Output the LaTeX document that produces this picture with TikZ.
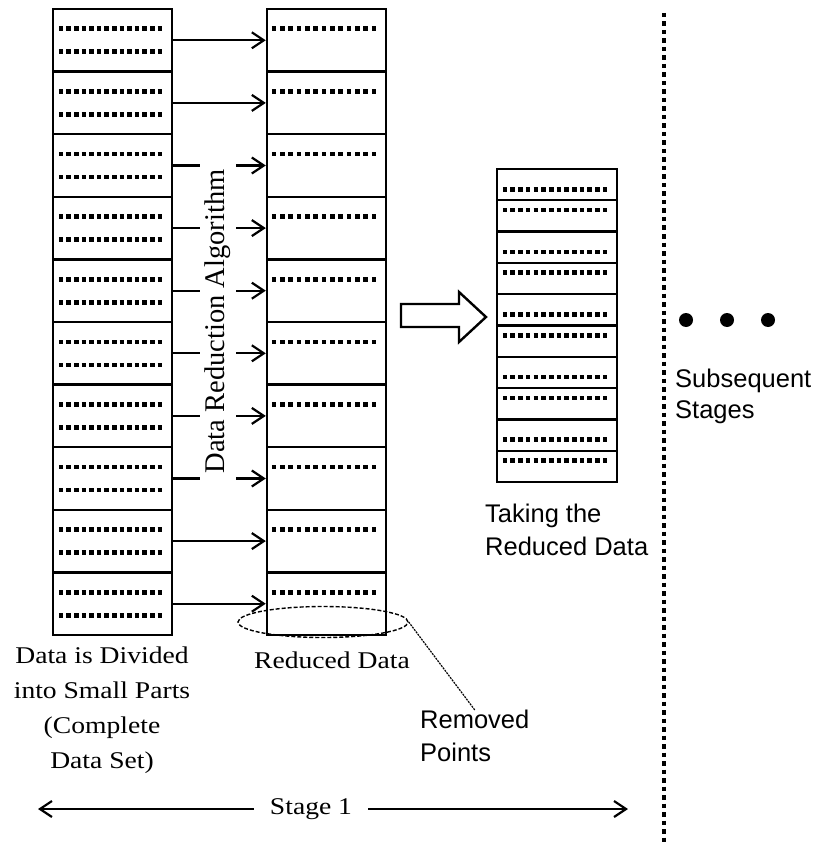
\documentclass[tikz,border=0pt]{standalone}
\usepackage{fontspec}
\setmainfont{Liberation Serif}
\newfontfamily\labelfont[FakeStretch=1.15]{Liberation Serif}
\newfontfamily\sansfont{Liberation Sans}
\usetikzlibrary{arrows.meta,shapes.geometric,calc}
\tikzset{
  part/.style  ={draw, line width=2.4pt, minimum width=119pt, minimum height=62.6pt, inner sep=0pt},
  half/.style  ={draw, line width=2.4pt, minimum width=120pt, minimum height=31.3pt, inner sep=0pt},
  dotrow/.style={line width=4.6pt, dash pattern=on 4.6pt off #1},
  flow/.style  ={-{Straight Barb[length=12pt,width=16pt]}, line width=2.2pt},
  algo/.style  ={rotate=90, fill=white, inner xsep=8pt, inner ysep=5pt, font=\fontsize{28.5}{34}\selectfont},
  lab/.style   ={inner sep=0pt, align=center, font=\labelfont\fontsize{24}{35}\selectfont},
  slab/.style  ={inner sep=0pt, align=left, font=\sansfont\fontsize{25.5}{33}\selectfont},
  blockarr/.style={draw, line width=2.4pt, fill=white, line join=miter},
  cut/.style   ={ellipse, draw, line width=1.4pt, dash pattern=on 4pt off 2pt, minimum width=170pt, minimum height=31pt, inner sep=0pt},
  leader/.style={line width=1.2pt, dash pattern=on 2pt off 1pt},
  sep/.style   ={line width=4.5pt, dash pattern=on 4.5pt off 4pt},
}

\begin{document}
\begin{tikzpicture}[x=1pt, y=-1pt]
  \useasboundingbox (0,0) rectangle (824,850);
  % stage 1: complete data set -> reduced data
  \foreach \i in {1,...,10}{
    \node[part] (L\i) at (112.5,{9+(\i-0.5)*62.6}) {};
    \node[part] (M\i) at (326.5,{9+(\i-0.5)*62.6}) {};
    \draw[dotrow=3pt] ($(L\i.north west)+(7,21)$) -- +(102.8,0);
    \draw[dotrow=3pt] ($(L\i.north west)+(7,44)$) -- +(102.8,0);
    \draw[dotrow=3.73pt] ($(M\i.north west)+(6,21)$) -- +(104,0);
    \draw[flow] (L\i.east) -- (M\i.west);
  }
  \node[algo] (algo) at (218,321.5) {Data Reduction Algorithm};
  \node[cut] (cut) at (323,622) {};

  % taking the reduced data
  \draw[blockarr] (401,304) -- (459,304) -- (459,292) -- (486,317)
    -- (459,342) -- (459,327) -- (401,327) -- cycle;
  \foreach \i in {1,...,10}{
    \pgfmathsetmacro\dy{mod(\i,2)==1 ? 21.5 : 11}
    \node[half] (R\i) at (557,{169+(\i-0.5)*31.3}) {};
    \draw[dotrow=3.09pt] ($(R\i.north west)+(7,\dy)$) -- +(104,0);
  }

  % labels
  \node[lab, anchor=north] (divided) at (102,646.6) {Data is Divided\\into Small Parts\\(Complete\\Data Set)};
  \node[lab, anchor=base] (reduced) at (332,668) {Reduced Data};
  \node[slab, anchor=north west] (removed) at (420,710) {Removed\\Points};
  \draw[leader] (cut.east) -- (removed.north);
  \node[slab, anchor=north west] (taking) at (485,503.5) {Taking the\\Reduced Data};

  % stage span
  \node[lab, inner xsep=16pt] (stage) at (311,809) {Stage 1};
  \coordinate (stgL) at (38,808);
  \coordinate (stgR) at (628,808);
  \draw[flow] (stage.west) -- (stage.west -| stgL);
  \draw[flow] (stage.east) -- (stage.east -| stgR);

  % subsequent stages
  \draw[sep] (664,13) -- (664,845);
  \foreach \x in {686,727,768} \fill (\x,320) circle (7pt);
  \node[slab, anchor=north west, font=\sansfont\fontsize{25.5}{31}\selectfont] (subseq) at (675,369) {Subsequent\\Stages};
\end{tikzpicture}
\end{document}
